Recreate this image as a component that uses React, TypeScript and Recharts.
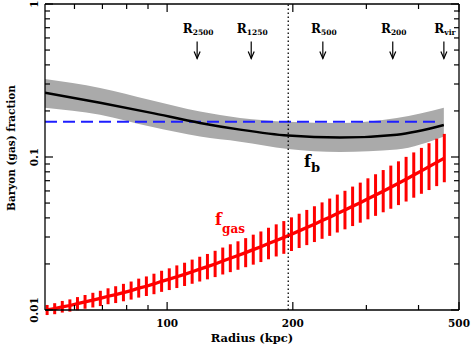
import {
  ComposedChart,
  Line,
  Area,
  Scatter,
  XAxis,
  YAxis,
  ErrorBar,
  ReferenceLine,
  ReferenceDot,
} from "recharts";

// ---------------------------------------------------------------------------
// Data
// ---------------------------------------------------------------------------

// gas fraction profile (red line + error bars)
const gasRadius = [
  51.6, 53.8, 56.1, 58.5, 61.0, 63.6, 66.4, 69.2, 72.2, 75.3,
  78.6, 82.0, 85.5, 89.2, 93.0, 97.0, 101.2, 105.5, 110.1, 114.8,
  119.7, 124.9, 130.3, 135.9, 141.7, 147.8, 154.2, 160.8, 167.7, 174.9,
  182.5, 190.3, 198.5, 207.1, 216.0, 225.3, 235.0, 245.1, 255.6, 266.6,
  278.1, 290.1, 302.6, 315.6, 329.2, 343.3, 358.1, 373.5, 389.6, 406.4,
  423.8, 442.1, 461.1,
];
const gasFraction = [
  0.0100, 0.0102, 0.0105, 0.0107, 0.0110, 0.0113, 0.0116, 0.0119, 0.0123, 0.0126,
  0.0130, 0.0134, 0.0139, 0.0143, 0.0148, 0.0154, 0.0159, 0.0165, 0.0171, 0.0178,
  0.0185, 0.0192, 0.0200, 0.0209, 0.0218, 0.0227, 0.0237, 0.0248, 0.0259, 0.0272,
  0.0285, 0.0298, 0.0313, 0.0329, 0.0346, 0.0364, 0.0384, 0.0404, 0.0427, 0.0450,
  0.0476, 0.0503, 0.0533, 0.0564, 0.0598, 0.0635, 0.0674, 0.0716, 0.0762, 0.0812,
  0.0865, 0.0922, 0.0984,
];
// half-length of each error bar, in dex
const gasErrDex = [
  0.033, 0.036, 0.038, 0.040, 0.043, 0.045, 0.048, 0.050, 0.052, 0.055,
  0.057, 0.059, 0.062, 0.064, 0.067, 0.069, 0.071, 0.074, 0.076, 0.079,
  0.081, 0.083, 0.086, 0.088, 0.091, 0.093, 0.095, 0.098, 0.100, 0.103,
  0.105, 0.107, 0.110, 0.112, 0.115, 0.117, 0.119, 0.122, 0.124, 0.126,
  0.129, 0.131, 0.134, 0.136, 0.138, 0.141, 0.143, 0.146, 0.148, 0.150,
  0.153, 0.155, 0.158,
];

// baryon fraction f_b and its grey band
const fbRadius = [51, 69.1, 91.1, 119.9, 149.5, 194.8, 259.4, 354.9, 459.9];
const fbValue = [0.263, 0.226, 0.195, 0.167, 0.151, 0.138, 0.134, 0.140, 0.162];
const fbLow = [0.210, 0.189, 0.158, 0.136, 0.126, 0.113, 0.108, 0.112, 0.136];
const fbHigh = [0.324, 0.283, 0.236, 0.198, 0.180, 0.170, 0.167, 0.180, 0.210];

// cosmic baryon fraction (blue dashed)
const cosmicRadius = [51, 442];
const cosmicFraction = 0.17;

// characteristic radii arrows
const markerRadius = [118, 159, 236, 347, 460];
const markerSub = ["2500", "1250", "500", "200", "vir"];
const markerLevel = 0.5;

// vertical dotted line
const dividerRadius = 195;

const xTicks = [60, 70, 80, 90, 100, 200, 300, 400, 500];
const xMajor = [100, 200, 500];
const yTicks = [
  0.01, 0.02, 0.03, 0.04, 0.05, 0.06, 0.07, 0.08, 0.09,
  0.1, 0.2, 0.3, 0.4, 0.5, 0.6, 0.7, 0.8, 0.9, 1,
];
const yMajor = [0.01, 0.1, 1];

// ---------------------------------------------------------------------------
// Tables for the library
// ---------------------------------------------------------------------------

const gasRows = gasRadius.map((r, i) => {
  const f = gasFraction[i];
  const k = Math.pow(10, gasErrDex[i]);
  return { r, f, err: [f - f / k, f * k - f] };
});

const fbRows = fbRadius.map((r, i) => ({
  r,
  fb: fbValue[i],
  band: [fbLow[i], fbHigh[i]],
}));

const cosmicRows = cosmicRadius.map((r) => ({ r, fc: cosmicFraction }));

const markerRows = markerRadius.map((r, i) => ({
  r,
  level: markerLevel,
  sub: markerSub[i],
}));

// ---------------------------------------------------------------------------
// Styling helpers
// ---------------------------------------------------------------------------

const FONT = "'DejaVu Serif', serif";
const INK = "#000";
const MAJOR_LEN = 8;
const MINOR_LEN = 5;
const TICK_W = 1.2;

function BottomTick(props: any) {
  const { x, y, payload } = props;
  const major = xMajor.includes(payload.value);
  return (
    <g>
      <path d={`M${x},${y}V${y - (major ? MAJOR_LEN : MINOR_LEN)}`} stroke={INK} strokeWidth={TICK_W} fill="none" />
      {major && (
        <text x={x} y={y + 17} textAnchor="middle" fontFamily={FONT} fontWeight="bold" fontSize={10.5} fill={INK}>
          {payload.value}
        </text>
      )}
    </g>
  );
}

function TopTick(props: any) {
  const { x, y, payload } = props;
  const major = xMajor.includes(payload.value);
  return (
    <path d={`M${x},${y}V${y + (major ? MAJOR_LEN : MINOR_LEN)}`} stroke={INK} strokeWidth={TICK_W} fill="none" />
  );
}

function LeftTick(props: any) {
  const { x, y, payload } = props;
  const major = yMajor.includes(payload.value);
  const tx = x - 7;
  return (
    <g>
      <path d={`M${x},${y}H${x + (major ? MAJOR_LEN : MINOR_LEN)}`} stroke={INK} strokeWidth={TICK_W} fill="none" />
      {major && (
        <text
          x={tx}
          y={y}
          transform={`rotate(-90, ${tx}, ${y})`}
          textAnchor="middle"
          fontFamily={FONT}
          fontWeight="bold"
          fontSize={10.5}
          fill={INK}
        >
          {String(payload.value)}
        </text>
      )}
    </g>
  );
}

function RightTick(props: any) {
  const { x, y, payload } = props;
  const major = yMajor.includes(payload.value);
  return (
    <path d={`M${x},${y}H${x - (major ? MAJOR_LEN : MINOR_LEN)}`} stroke={INK} strokeWidth={TICK_W} fill="none" />
  );
}

function XTitle(props: any) {
  const vb = props.viewBox || { x: 45, y: 310, width: 414, height: 37 };
  return (
    <text x={vb.x + vb.width / 2} y={vb.y + 32} textAnchor="middle" fontFamily={FONT} fontWeight="bold" fontSize={11.5} fill={INK}>
      Radius (kpc)
    </text>
  );
}

function YTitle(props: any) {
  const vb = props.viewBox || { x: 0, y: 4, width: 45, height: 306 };
  const cx = vb.x + 15;
  const cy = vb.y + vb.height / 2 - 9;
  return (
    <text x={cx} y={cy} transform={`rotate(-90, ${cx}, ${cy})`} textAnchor="middle" fontFamily={FONT} fontWeight="bold" fontSize={10.5} fill={INK}>
      Baryon (gas) fraction
    </text>
  );
}

function ArrowMark(props: any) {
  const { cx, cy, payload } = props;
  if (cx == null || cy == null) return null;
  return (
    <g>
      <text x={cx + 1} y={cy - 17.5} textAnchor="middle" fontFamily={FONT} fontWeight="bold" fill={INK}>
        <tspan fontSize={12}>R</tspan>
        <tspan fontSize={7.5} dy={2}>{payload.sub}</tspan>
      </text>
      <line x1={cx} x2={cx} y1={cy - 8.5} y2={cy + 8.5} stroke={INK} strokeWidth={1.2} />
      <polyline
        points={`${cx - 3},${cy + 1.5} ${cx},${cy + 8.5} ${cx + 3},${cy + 1.5}`}
        fill="none"
        stroke={INK}
        strokeWidth={1.2}
      />
    </g>
  );
}

function FbLabel(props: any) {
  const { cx, cy } = props;
  return (
    <text x={cx} y={cy} fontFamily={FONT} fontWeight="bold" fill={INK}>
      <tspan fontSize={16}>f</tspan>
      <tspan fontSize={13} dy={5}>b</tspan>
    </text>
  );
}

function FgasLabel(props: any) {
  const { cx, cy } = props;
  return (
    <text x={cx} y={cy} fontFamily={FONT} fontWeight="bold" fill="#ff0000">
      <tspan fontSize={16}>f</tspan>
      <tspan fontSize={12} dy={8}>gas</tspan>
    </text>
  );
}

// ---------------------------------------------------------------------------
// Chart
// ---------------------------------------------------------------------------

export default function App() {
  return (
    <div style={{ position: "absolute", left: 0, top: 0, background: "#fff" }}>
      <ComposedChart width={471} height={347} margin={{ top: 3, right: 11, bottom: 0, left: 0 }}>
        <Area
          data={fbRows}
          dataKey="band"
          type="monotone"
          fill="#aaaaaa"
          fillOpacity={1}
          stroke="none"
          isAnimationActive={false}
        />
        <Line
          data={cosmicRows}
          dataKey="fc"
          type="linear"
          stroke="#1e1eff"
          strokeWidth={1.8}
          strokeDasharray="12 6"
          dot={false}
          activeDot={false}
          isAnimationActive={false}
        />
        <Line
          data={fbRows}
          dataKey="fb"
          type="monotone"
          stroke={INK}
          strokeWidth={2.5}
          dot={false}
          activeDot={false}
          isAnimationActive={false}
        />
        <Line
          data={gasRows}
          dataKey="f"
          type="linear"
          stroke="#ff0000"
          strokeWidth={3.3}
          dot={false}
          activeDot={false}
          isAnimationActive={false}
        >
          <ErrorBar dataKey="err" direction="y" width={0} stroke="#ff0000" strokeWidth={3} isAnimationActive={false} />
        </Line>
        <Scatter data={markerRows} dataKey="level" shape={ArrowMark} isAnimationActive={false} />
        <ReferenceDot x={212.7} y={0.0864} r={0} shape={FbLabel} />
        <ReferenceDot x={130.3} y={0.0362} r={0} shape={FgasLabel} />
        <ReferenceLine x={dividerRadius} stroke={INK} strokeWidth={1.3} strokeDasharray="1.5 2.5" />

        <XAxis
          dataKey="r"
          type="number"
          scale="log"
          domain={[51, 500]}
          allowDataOverflow
          ticks={xTicks}
          interval={0}
          height={37}
          tickSize={0}
          tickMargin={0}
          tickLine={false}
          tick={BottomTick}
          axisLine={{ stroke: INK, strokeWidth: 1.3 }}
          label={XTitle}
        />
        <XAxis
          xAxisId="top"
          orientation="top"
          dataKey="r"
          type="number"
          scale="log"
          domain={[51, 500]}
          allowDataOverflow
          ticks={xTicks}
          interval={0}
          height={1}
          tickSize={0}
          tickMargin={0}
          tickLine={false}
          tick={TopTick}
          axisLine={{ stroke: INK, strokeWidth: 1.3 }}
        />
        <YAxis
          type="number"
          scale="log"
          domain={[0.01, 1]}
          allowDataOverflow
          ticks={yTicks}
          interval={0}
          width={45}
          tickSize={0}
          tickMargin={0}
          tickLine={false}
          tick={LeftTick}
          axisLine={{ stroke: INK, strokeWidth: 1.3 }}
          label={YTitle}
        />
        <YAxis
          yAxisId="right"
          orientation="right"
          type="number"
          scale="log"
          domain={[0.01, 1]}
          allowDataOverflow
          ticks={yTicks}
          interval={0}
          width={1}
          tickSize={0}
          tickMargin={0}
          tickLine={false}
          tick={RightTick}
          axisLine={{ stroke: INK, strokeWidth: 1.3 }}
        />
      </ComposedChart>
    </div>
  );
}
